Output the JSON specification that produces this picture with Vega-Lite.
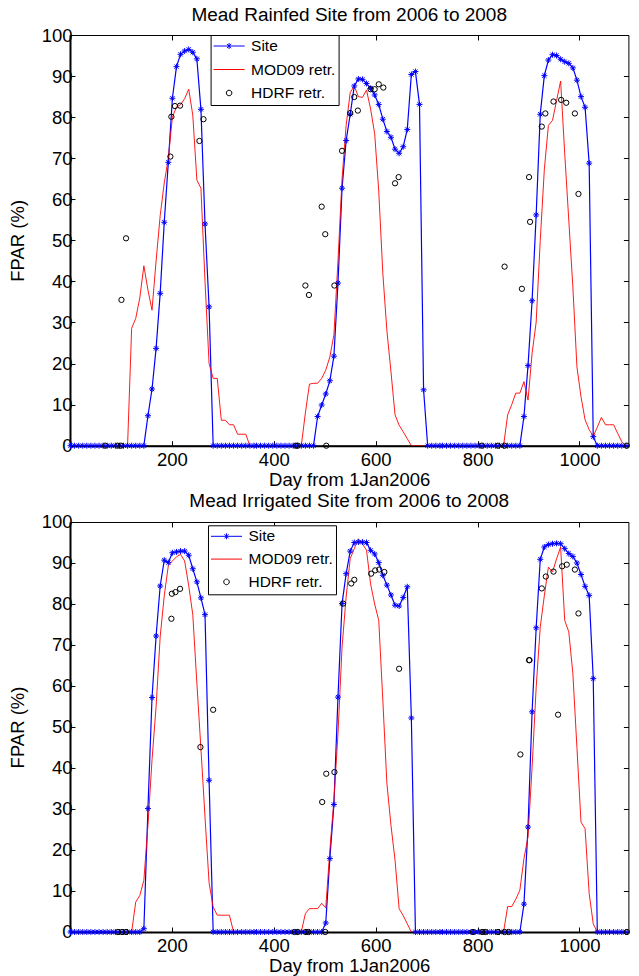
{
  "$schema": "https://vega.github.io/schema/vega-lite/v6.json",
  "background": "white",
  "padding": {"left": 7, "top": 5, "right": 5, "bottom": 5},
  "datasets": {
    "rainfed": [
      {"series":"Site","day":1,"fpar":0},{"series":"Site","day":9,"fpar":0},{"series":"Site","day":17,"fpar":0},{"series":"Site","day":25,"fpar":0},{"series":"Site","day":33,"fpar":0},{"series":"Site","day":41,"fpar":0},{"series":"Site","day":49,"fpar":0},{"series":"Site","day":57,"fpar":0},{"series":"Site","day":65,"fpar":0},{"series":"Site","day":73,"fpar":0},{"series":"Site","day":81,"fpar":0},{"series":"Site","day":89,"fpar":0},{"series":"Site","day":97,"fpar":0},{"series":"Site","day":105,"fpar":0},{"series":"Site","day":113,"fpar":0},{"series":"Site","day":121,"fpar":0},{"series":"Site","day":129,"fpar":0},{"series":"Site","day":137,"fpar":0},{"series":"Site","day":145,"fpar":0},
      {"series":"Site","day":153,"fpar":7.3},{"series":"Site","day":161,"fpar":13.8},{"series":"Site","day":169,"fpar":23.7},{"series":"Site","day":177,"fpar":37.1},{"series":"Site","day":185,"fpar":54.4},{"series":"Site","day":193,"fpar":69.0},{"series":"Site","day":201,"fpar":84.6},{"series":"Site","day":209,"fpar":92.3},{"series":"Site","day":217,"fpar":95.3},{"series":"Site","day":225,"fpar":96.1},{"series":"Site","day":233,"fpar":96.5},{"series":"Site","day":241,"fpar":95.8},{"series":"Site","day":249,"fpar":94.2},{"series":"Site","day":257,"fpar":81.9},{"series":"Site","day":265,"fpar":54.0},{"series":"Site","day":273,"fpar":33.8},
      {"series":"Site","day":281,"fpar":0},{"series":"Site","day":289,"fpar":0},{"series":"Site","day":297,"fpar":0},{"series":"Site","day":305,"fpar":0},{"series":"Site","day":313,"fpar":0},{"series":"Site","day":321,"fpar":0},{"series":"Site","day":329,"fpar":0},{"series":"Site","day":337,"fpar":0},{"series":"Site","day":345,"fpar":0},{"series":"Site","day":353,"fpar":0},{"series":"Site","day":361,"fpar":0},
      {"series":"Site","day":366,"fpar":0},{"series":"Site","day":374,"fpar":0},{"series":"Site","day":382,"fpar":0},{"series":"Site","day":390,"fpar":0},{"series":"Site","day":398,"fpar":0},{"series":"Site","day":406,"fpar":0},{"series":"Site","day":414,"fpar":0},{"series":"Site","day":422,"fpar":0},{"series":"Site","day":430,"fpar":0},{"series":"Site","day":438,"fpar":0},{"series":"Site","day":446,"fpar":0},{"series":"Site","day":454,"fpar":0},{"series":"Site","day":462,"fpar":0},{"series":"Site","day":470,"fpar":0},{"series":"Site","day":478,"fpar":0},
      {"series":"Site","day":486,"fpar":7.1},{"series":"Site","day":494,"fpar":9.9},{"series":"Site","day":502,"fpar":12.6},{"series":"Site","day":510,"fpar":15.8},{"series":"Site","day":518,"fpar":21.8},{"series":"Site","day":526,"fpar":39.6},{"series":"Site","day":534,"fpar":62.7},{"series":"Site","day":542,"fpar":74.3},{"series":"Site","day":550,"fpar":80.7},{"series":"Site","day":558,"fpar":87.6},{"series":"Site","day":566,"fpar":89.3},{"series":"Site","day":574,"fpar":89.2},{"series":"Site","day":582,"fpar":88.2},{"series":"Site","day":590,"fpar":87.0},{"series":"Site","day":598,"fpar":85.4},{"series":"Site","day":606,"fpar":83.1},{"series":"Site","day":614,"fpar":79.5},{"series":"Site","day":622,"fpar":76.5},{"series":"Site","day":630,"fpar":75.1},{"series":"Site","day":638,"fpar":72.2},{"series":"Site","day":646,"fpar":71.2},{"series":"Site","day":654,"fpar":72.8},{"series":"Site","day":662,"fpar":77.0},{"series":"Site","day":670,"fpar":90.4},{"series":"Site","day":678,"fpar":91.1},{"series":"Site","day":686,"fpar":83.1},{"series":"Site","day":694,"fpar":13.6},
      {"series":"Site","day":702,"fpar":0},{"series":"Site","day":710,"fpar":0},{"series":"Site","day":718,"fpar":0},{"series":"Site","day":726,"fpar":0},
      {"series":"Site","day":731,"fpar":0},{"series":"Site","day":739,"fpar":0},{"series":"Site","day":747,"fpar":0},{"series":"Site","day":755,"fpar":0},{"series":"Site","day":763,"fpar":0},{"series":"Site","day":771,"fpar":0},{"series":"Site","day":779,"fpar":0},{"series":"Site","day":787,"fpar":0},{"series":"Site","day":795,"fpar":0},{"series":"Site","day":803,"fpar":0},{"series":"Site","day":811,"fpar":0},{"series":"Site","day":819,"fpar":0},{"series":"Site","day":827,"fpar":0},{"series":"Site","day":835,"fpar":0},{"series":"Site","day":843,"fpar":0},{"series":"Site","day":851,"fpar":0},{"series":"Site","day":859,"fpar":0},{"series":"Site","day":867,"fpar":0},{"series":"Site","day":875,"fpar":0},{"series":"Site","day":883,"fpar":0},
      {"series":"Site","day":891,"fpar":7.1},{"series":"Site","day":899,"fpar":19.5},{"series":"Site","day":907,"fpar":35.3},{"series":"Site","day":915,"fpar":56.2},{"series":"Site","day":923,"fpar":80.7},{"series":"Site","day":931,"fpar":90.1},{"series":"Site","day":939,"fpar":93.9},{"series":"Site","day":947,"fpar":95.2},{"series":"Site","day":955,"fpar":95.0},{"series":"Site","day":963,"fpar":94.1},{"series":"Site","day":971,"fpar":93.5},{"series":"Site","day":979,"fpar":93.1},{"series":"Site","day":987,"fpar":92.0},{"series":"Site","day":995,"fpar":89.0},{"series":"Site","day":1003,"fpar":85.0},{"series":"Site","day":1011,"fpar":82.4},{"series":"Site","day":1019,"fpar":68.8},{"series":"Site","day":1027,"fpar":2.2},
      {"series":"Site","day":1035,"fpar":0},{"series":"Site","day":1043,"fpar":0},{"series":"Site","day":1051,"fpar":0},{"series":"Site","day":1059,"fpar":0},{"series":"Site","day":1067,"fpar":0},{"series":"Site","day":1075,"fpar":0},{"series":"Site","day":1083,"fpar":0},{"series":"Site","day":1091,"fpar":0},

      {"series":"MOD09 retr.","day":1,"fpar":0},{"series":"MOD09 retr.","day":9,"fpar":0},{"series":"MOD09 retr.","day":17,"fpar":0},{"series":"MOD09 retr.","day":25,"fpar":0},{"series":"MOD09 retr.","day":33,"fpar":0},{"series":"MOD09 retr.","day":41,"fpar":0},{"series":"MOD09 retr.","day":49,"fpar":0},{"series":"MOD09 retr.","day":57,"fpar":0},{"series":"MOD09 retr.","day":65,"fpar":0},{"series":"MOD09 retr.","day":73,"fpar":0},{"series":"MOD09 retr.","day":81,"fpar":0},{"series":"MOD09 retr.","day":89,"fpar":0},{"series":"MOD09 retr.","day":97,"fpar":0},{"series":"MOD09 retr.","day":105,"fpar":0},{"series":"MOD09 retr.","day":113,"fpar":0},
      {"series":"MOD09 retr.","day":121,"fpar":28.6},{"series":"MOD09 retr.","day":129,"fpar":31.0},{"series":"MOD09 retr.","day":137,"fpar":36.0},{"series":"MOD09 retr.","day":145,"fpar":43.8},{"series":"MOD09 retr.","day":153,"fpar":37.9},{"series":"MOD09 retr.","day":161,"fpar":33.0},{"series":"MOD09 retr.","day":169,"fpar":45.0},{"series":"MOD09 retr.","day":177,"fpar":56.0},{"series":"MOD09 retr.","day":185,"fpar":64.0},{"series":"MOD09 retr.","day":193,"fpar":70.0},{"series":"MOD09 retr.","day":201,"fpar":80.0},{"series":"MOD09 retr.","day":209,"fpar":82.5},{"series":"MOD09 retr.","day":217,"fpar":83.0},{"series":"MOD09 retr.","day":225,"fpar":84.5},{"series":"MOD09 retr.","day":233,"fpar":86.8},{"series":"MOD09 retr.","day":241,"fpar":80.5},{"series":"MOD09 retr.","day":249,"fpar":64.7},{"series":"MOD09 retr.","day":257,"fpar":62.7},{"series":"MOD09 retr.","day":265,"fpar":40.0},{"series":"MOD09 retr.","day":273,"fpar":20.0},{"series":"MOD09 retr.","day":281,"fpar":16.4},{"series":"MOD09 retr.","day":289,"fpar":16.4},{"series":"MOD09 retr.","day":297,"fpar":6.2},{"series":"MOD09 retr.","day":305,"fpar":6.2},{"series":"MOD09 retr.","day":313,"fpar":5.1},{"series":"MOD09 retr.","day":321,"fpar":5.1},{"series":"MOD09 retr.","day":329,"fpar":2.8},{"series":"MOD09 retr.","day":337,"fpar":2.8},{"series":"MOD09 retr.","day":345,"fpar":2.8},{"series":"MOD09 retr.","day":353,"fpar":0},{"series":"MOD09 retr.","day":361,"fpar":0},
      {"series":"MOD09 retr.","day":366,"fpar":0},{"series":"MOD09 retr.","day":374,"fpar":0},{"series":"MOD09 retr.","day":382,"fpar":0},{"series":"MOD09 retr.","day":390,"fpar":0},{"series":"MOD09 retr.","day":398,"fpar":0},{"series":"MOD09 retr.","day":406,"fpar":0},{"series":"MOD09 retr.","day":414,"fpar":0},{"series":"MOD09 retr.","day":422,"fpar":0},{"series":"MOD09 retr.","day":430,"fpar":0},{"series":"MOD09 retr.","day":438,"fpar":0},{"series":"MOD09 retr.","day":446,"fpar":0},{"series":"MOD09 retr.","day":454,"fpar":0},
      {"series":"MOD09 retr.","day":462,"fpar":8.0},{"series":"MOD09 retr.","day":470,"fpar":15.0},{"series":"MOD09 retr.","day":478,"fpar":15.2},{"series":"MOD09 retr.","day":486,"fpar":15.2},{"series":"MOD09 retr.","day":494,"fpar":16.4},{"series":"MOD09 retr.","day":502,"fpar":18.4},{"series":"MOD09 retr.","day":510,"fpar":21.6},{"series":"MOD09 retr.","day":518,"fpar":27.0},{"series":"MOD09 retr.","day":526,"fpar":45.0},{"series":"MOD09 retr.","day":534,"fpar":65.0},{"series":"MOD09 retr.","day":542,"fpar":78.0},{"series":"MOD09 retr.","day":550,"fpar":86.0},{"series":"MOD09 retr.","day":558,"fpar":87.6},{"series":"MOD09 retr.","day":566,"fpar":85.0},{"series":"MOD09 retr.","day":574,"fpar":84.8},{"series":"MOD09 retr.","day":582,"fpar":86.6},{"series":"MOD09 retr.","day":590,"fpar":82.0},{"series":"MOD09 retr.","day":598,"fpar":76.0},{"series":"MOD09 retr.","day":606,"fpar":62.0},{"series":"MOD09 retr.","day":614,"fpar":42.0},{"series":"MOD09 retr.","day":622,"fpar":28.0},{"series":"MOD09 retr.","day":630,"fpar":18.0},{"series":"MOD09 retr.","day":638,"fpar":7.5},{"series":"MOD09 retr.","day":646,"fpar":5.0},{"series":"MOD09 retr.","day":654,"fpar":3.4},{"series":"MOD09 retr.","day":662,"fpar":1.7},{"series":"MOD09 retr.","day":670,"fpar":0},{"series":"MOD09 retr.","day":678,"fpar":0},{"series":"MOD09 retr.","day":686,"fpar":0},{"series":"MOD09 retr.","day":694,"fpar":0},{"series":"MOD09 retr.","day":702,"fpar":0},{"series":"MOD09 retr.","day":710,"fpar":0},{"series":"MOD09 retr.","day":718,"fpar":0},{"series":"MOD09 retr.","day":726,"fpar":0},
      {"series":"MOD09 retr.","day":731,"fpar":0},{"series":"MOD09 retr.","day":739,"fpar":0},{"series":"MOD09 retr.","day":747,"fpar":0},{"series":"MOD09 retr.","day":755,"fpar":0},{"series":"MOD09 retr.","day":763,"fpar":0},{"series":"MOD09 retr.","day":771,"fpar":0},{"series":"MOD09 retr.","day":779,"fpar":0},{"series":"MOD09 retr.","day":787,"fpar":0},{"series":"MOD09 retr.","day":795,"fpar":0},{"series":"MOD09 retr.","day":803,"fpar":0},{"series":"MOD09 retr.","day":811,"fpar":0},{"series":"MOD09 retr.","day":819,"fpar":0},{"series":"MOD09 retr.","day":827,"fpar":0},{"series":"MOD09 retr.","day":835,"fpar":0},{"series":"MOD09 retr.","day":843,"fpar":0},{"series":"MOD09 retr.","day":851,"fpar":0},
      {"series":"MOD09 retr.","day":859,"fpar":7.5},{"series":"MOD09 retr.","day":867,"fpar":10.0},{"series":"MOD09 retr.","day":875,"fpar":12.8},{"series":"MOD09 retr.","day":883,"fpar":12.8},{"series":"MOD09 retr.","day":891,"fpar":15.6},{"series":"MOD09 retr.","day":899,"fpar":11.1},{"series":"MOD09 retr.","day":907,"fpar":22.5},{"series":"MOD09 retr.","day":915,"fpar":30.1},{"series":"MOD09 retr.","day":923,"fpar":50.0},{"series":"MOD09 retr.","day":931,"fpar":67.2},{"series":"MOD09 retr.","day":939,"fpar":78.0},{"series":"MOD09 retr.","day":947,"fpar":79.2},{"series":"MOD09 retr.","day":955,"fpar":84.0},{"series":"MOD09 retr.","day":963,"fpar":88.8},{"series":"MOD09 retr.","day":971,"fpar":71.2},{"series":"MOD09 retr.","day":979,"fpar":54.9},{"series":"MOD09 retr.","day":987,"fpar":38.7},{"series":"MOD09 retr.","day":995,"fpar":19.2},{"series":"MOD09 retr.","day":1003,"fpar":11.9},{"series":"MOD09 retr.","day":1011,"fpar":6.3},{"series":"MOD09 retr.","day":1019,"fpar":3.9},{"series":"MOD09 retr.","day":1027,"fpar":2.3},{"series":"MOD09 retr.","day":1035,"fpar":4.5},{"series":"MOD09 retr.","day":1043,"fpar":6.9},{"series":"MOD09 retr.","day":1051,"fpar":5.1},{"series":"MOD09 retr.","day":1059,"fpar":5.1},{"series":"MOD09 retr.","day":1067,"fpar":5.1},{"series":"MOD09 retr.","day":1075,"fpar":3.0},{"series":"MOD09 retr.","day":1083,"fpar":1.0},{"series":"MOD09 retr.","day":1091,"fpar":0},

      {"series":"HDRF retr.","day":69,"fpar":0},{"series":"HDRF retr.","day":93,"fpar":0},{"series":"HDRF retr.","day":100,"fpar":0},{"series":"HDRF retr.","day":101,"fpar":35.5},{"series":"HDRF retr.","day":110,"fpar":50.5},{"series":"HDRF retr.","day":197,"fpar":70.4},{"series":"HDRF retr.","day":199,"fpar":80.1},{"series":"HDRF retr.","day":206,"fpar":82.7},{"series":"HDRF retr.","day":216,"fpar":82.8},{"series":"HDRF retr.","day":254,"fpar":74.2},{"series":"HDRF retr.","day":262,"fpar":79.5},
      {"series":"HDRF retr.","day":443,"fpar":0},{"series":"HDRF retr.","day":447,"fpar":0},{"series":"HDRF retr.","day":462,"fpar":39.0},{"series":"HDRF retr.","day":469,"fpar":36.7},{"series":"HDRF retr.","day":494,"fpar":58.2},{"series":"HDRF retr.","day":501,"fpar":51.5},{"series":"HDRF retr.","day":503,"fpar":0},{"series":"HDRF retr.","day":519,"fpar":39.0},{"series":"HDRF retr.","day":534,"fpar":71.8},{"series":"HDRF retr.","day":550,"fpar":81.0},{"series":"HDRF retr.","day":558,"fpar":84.9},{"series":"HDRF retr.","day":565,"fpar":81.6},{"series":"HDRF retr.","day":590,"fpar":86.8},{"series":"HDRF retr.","day":598,"fpar":86.8},{"series":"HDRF retr.","day":606,"fpar":88.0},{"series":"HDRF retr.","day":615,"fpar":87.2},{"series":"HDRF retr.","day":638,"fpar":63.9},{"series":"HDRF retr.","day":645,"fpar":65.4},
      {"series":"HDRF retr.","day":808,"fpar":0},{"series":"HDRF retr.","day":840,"fpar":0},{"series":"HDRF retr.","day":853,"fpar":0},{"series":"HDRF retr.","day":853,"fpar":43.6},{"series":"HDRF retr.","day":887,"fpar":38.2},{"series":"HDRF retr.","day":901,"fpar":65.4},{"series":"HDRF retr.","day":903,"fpar":54.5},{"series":"HDRF retr.","day":926,"fpar":77.7},{"series":"HDRF retr.","day":933,"fpar":80.9},{"series":"HDRF retr.","day":949,"fpar":83.8},{"series":"HDRF retr.","day":964,"fpar":84.2},{"series":"HDRF retr.","day":974,"fpar":83.5},{"series":"HDRF retr.","day":991,"fpar":80.9},{"series":"HDRF retr.","day":998,"fpar":61.3},{"series":"HDRF retr.","day":1093,"fpar":0}
    ],
    "irrigated": [
      {"series":"Site","day":1,"fpar":0},{"series":"Site","day":9,"fpar":0},{"series":"Site","day":17,"fpar":0},{"series":"Site","day":25,"fpar":0},{"series":"Site","day":33,"fpar":0},{"series":"Site","day":41,"fpar":0},{"series":"Site","day":49,"fpar":0},{"series":"Site","day":57,"fpar":0},{"series":"Site","day":65,"fpar":0},{"series":"Site","day":73,"fpar":0},{"series":"Site","day":81,"fpar":0},{"series":"Site","day":89,"fpar":0},{"series":"Site","day":97,"fpar":0},{"series":"Site","day":105,"fpar":0},{"series":"Site","day":113,"fpar":0},{"series":"Site","day":121,"fpar":0},{"series":"Site","day":129,"fpar":0},{"series":"Site","day":137,"fpar":0},
      {"series":"Site","day":145,"fpar":0.8},{"series":"Site","day":153,"fpar":30.1},{"series":"Site","day":161,"fpar":57.2},{"series":"Site","day":169,"fpar":72.2},{"series":"Site","day":177,"fpar":84.4},{"series":"Site","day":185,"fpar":90.7},{"series":"Site","day":193,"fpar":90.1},{"series":"Site","day":201,"fpar":92.5},{"series":"Site","day":209,"fpar":92.7},{"series":"Site","day":217,"fpar":92.9},{"series":"Site","day":225,"fpar":92.9},{"series":"Site","day":233,"fpar":91.9},{"series":"Site","day":241,"fpar":88.6},{"series":"Site","day":249,"fpar":85.4},{"series":"Site","day":257,"fpar":81.5},{"series":"Site","day":265,"fpar":77.4},{"series":"Site","day":273,"fpar":37.0},
      {"series":"Site","day":281,"fpar":0},{"series":"Site","day":289,"fpar":0},{"series":"Site","day":297,"fpar":0},{"series":"Site","day":305,"fpar":0},{"series":"Site","day":313,"fpar":0},{"series":"Site","day":321,"fpar":0},{"series":"Site","day":329,"fpar":0},{"series":"Site","day":337,"fpar":0},{"series":"Site","day":345,"fpar":0},{"series":"Site","day":353,"fpar":0},{"series":"Site","day":361,"fpar":0},
      {"series":"Site","day":366,"fpar":0},{"series":"Site","day":374,"fpar":0},{"series":"Site","day":382,"fpar":0},{"series":"Site","day":390,"fpar":0},{"series":"Site","day":398,"fpar":0},{"series":"Site","day":406,"fpar":0},{"series":"Site","day":414,"fpar":0},{"series":"Site","day":422,"fpar":0},{"series":"Site","day":430,"fpar":0},{"series":"Site","day":438,"fpar":0},{"series":"Site","day":446,"fpar":0},{"series":"Site","day":454,"fpar":0},{"series":"Site","day":462,"fpar":0},{"series":"Site","day":470,"fpar":0},{"series":"Site","day":478,"fpar":0},{"series":"Site","day":486,"fpar":0},{"series":"Site","day":494,"fpar":0},
      {"series":"Site","day":502,"fpar":2.2},{"series":"Site","day":510,"fpar":17.9},{"series":"Site","day":518,"fpar":31.1},{"series":"Site","day":526,"fpar":57.3},{"series":"Site","day":534,"fpar":80.1},{"series":"Site","day":542,"fpar":87.4},{"series":"Site","day":550,"fpar":92.9},{"series":"Site","day":558,"fpar":95.0},{"series":"Site","day":566,"fpar":95.1},{"series":"Site","day":574,"fpar":95.1},{"series":"Site","day":582,"fpar":95.0},{"series":"Site","day":590,"fpar":93.1},{"series":"Site","day":598,"fpar":92.2},{"series":"Site","day":606,"fpar":90.1},{"series":"Site","day":614,"fpar":87.0},{"series":"Site","day":622,"fpar":84.6},{"series":"Site","day":630,"fpar":82.2},{"series":"Site","day":638,"fpar":79.7},{"series":"Site","day":646,"fpar":79.5},{"series":"Site","day":654,"fpar":81.6},{"series":"Site","day":662,"fpar":84.2},{"series":"Site","day":670,"fpar":52.2},
      {"series":"Site","day":678,"fpar":0},{"series":"Site","day":686,"fpar":0},{"series":"Site","day":694,"fpar":0},{"series":"Site","day":702,"fpar":0},{"series":"Site","day":710,"fpar":0},{"series":"Site","day":718,"fpar":0},{"series":"Site","day":726,"fpar":0},
      {"series":"Site","day":731,"fpar":0},{"series":"Site","day":739,"fpar":0},{"series":"Site","day":747,"fpar":0},{"series":"Site","day":755,"fpar":0},{"series":"Site","day":763,"fpar":0},{"series":"Site","day":771,"fpar":0},{"series":"Site","day":779,"fpar":0},{"series":"Site","day":787,"fpar":0},{"series":"Site","day":795,"fpar":0},{"series":"Site","day":803,"fpar":0},{"series":"Site","day":811,"fpar":0},{"series":"Site","day":819,"fpar":0},{"series":"Site","day":827,"fpar":0},{"series":"Site","day":835,"fpar":0},{"series":"Site","day":843,"fpar":0},{"series":"Site","day":851,"fpar":0},{"series":"Site","day":859,"fpar":0},{"series":"Site","day":867,"fpar":0},{"series":"Site","day":875,"fpar":0},{"series":"Site","day":883,"fpar":0},
      {"series":"Site","day":891,"fpar":6.8},{"series":"Site","day":899,"fpar":25.6},{"series":"Site","day":907,"fpar":53.7},{"series":"Site","day":915,"fpar":74.2},{"series":"Site","day":923,"fpar":90.9},{"series":"Site","day":931,"fpar":93.9},{"series":"Site","day":939,"fpar":94.5},{"series":"Site","day":947,"fpar":94.7},{"series":"Site","day":955,"fpar":94.8},{"series":"Site","day":963,"fpar":94.7},{"series":"Site","day":971,"fpar":93.5},{"series":"Site","day":979,"fpar":92.3},{"series":"Site","day":987,"fpar":91.6},{"series":"Site","day":995,"fpar":90.0},{"series":"Site","day":1003,"fpar":87.2},{"series":"Site","day":1011,"fpar":84.3},{"series":"Site","day":1019,"fpar":82.1},{"series":"Site","day":1027,"fpar":61.8},
      {"series":"Site","day":1035,"fpar":0},{"series":"Site","day":1043,"fpar":0},{"series":"Site","day":1051,"fpar":0},{"series":"Site","day":1059,"fpar":0},{"series":"Site","day":1067,"fpar":0},{"series":"Site","day":1075,"fpar":0},{"series":"Site","day":1083,"fpar":0},{"series":"Site","day":1091,"fpar":0},

      {"series":"MOD09 retr.","day":1,"fpar":0},{"series":"MOD09 retr.","day":9,"fpar":0},{"series":"MOD09 retr.","day":17,"fpar":0},{"series":"MOD09 retr.","day":25,"fpar":0},{"series":"MOD09 retr.","day":33,"fpar":0},{"series":"MOD09 retr.","day":41,"fpar":0},{"series":"MOD09 retr.","day":49,"fpar":0},{"series":"MOD09 retr.","day":57,"fpar":0},{"series":"MOD09 retr.","day":65,"fpar":0},{"series":"MOD09 retr.","day":73,"fpar":0},{"series":"MOD09 retr.","day":81,"fpar":0},{"series":"MOD09 retr.","day":89,"fpar":0},{"series":"MOD09 retr.","day":97,"fpar":0},{"series":"MOD09 retr.","day":105,"fpar":0},{"series":"MOD09 retr.","day":113,"fpar":0},{"series":"MOD09 retr.","day":121,"fpar":0},
      {"series":"MOD09 retr.","day":129,"fpar":7.3},{"series":"MOD09 retr.","day":137,"fpar":8.9},{"series":"MOD09 retr.","day":145,"fpar":12.6},{"series":"MOD09 retr.","day":153,"fpar":26.0},{"series":"MOD09 retr.","day":161,"fpar":42.0},{"series":"MOD09 retr.","day":169,"fpar":55.0},{"series":"MOD09 retr.","day":177,"fpar":72.0},{"series":"MOD09 retr.","day":185,"fpar":82.0},{"series":"MOD09 retr.","day":193,"fpar":89.4},{"series":"MOD09 retr.","day":201,"fpar":90.5},{"series":"MOD09 retr.","day":209,"fpar":91.5},{"series":"MOD09 retr.","day":217,"fpar":92.1},{"series":"MOD09 retr.","day":225,"fpar":90.5},{"series":"MOD09 retr.","day":233,"fpar":84.5},{"series":"MOD09 retr.","day":241,"fpar":77.4},{"series":"MOD09 retr.","day":249,"fpar":60.7},{"series":"MOD09 retr.","day":257,"fpar":44.7},{"series":"MOD09 retr.","day":265,"fpar":28.0},{"series":"MOD09 retr.","day":273,"fpar":12.0},{"series":"MOD09 retr.","day":281,"fpar":6.1},{"series":"MOD09 retr.","day":289,"fpar":4.1},{"series":"MOD09 retr.","day":297,"fpar":4.1},{"series":"MOD09 retr.","day":305,"fpar":4.1},{"series":"MOD09 retr.","day":313,"fpar":4.1},{"series":"MOD09 retr.","day":321,"fpar":0},{"series":"MOD09 retr.","day":329,"fpar":0},{"series":"MOD09 retr.","day":337,"fpar":0},{"series":"MOD09 retr.","day":345,"fpar":0},{"series":"MOD09 retr.","day":353,"fpar":0},{"series":"MOD09 retr.","day":361,"fpar":0},
      {"series":"MOD09 retr.","day":366,"fpar":0},{"series":"MOD09 retr.","day":374,"fpar":0},{"series":"MOD09 retr.","day":382,"fpar":0},{"series":"MOD09 retr.","day":390,"fpar":0},{"series":"MOD09 retr.","day":398,"fpar":0},{"series":"MOD09 retr.","day":406,"fpar":0},{"series":"MOD09 retr.","day":414,"fpar":0},{"series":"MOD09 retr.","day":422,"fpar":0},{"series":"MOD09 retr.","day":430,"fpar":0},{"series":"MOD09 retr.","day":438,"fpar":0},{"series":"MOD09 retr.","day":446,"fpar":0},{"series":"MOD09 retr.","day":454,"fpar":0},
      {"series":"MOD09 retr.","day":462,"fpar":4.5},{"series":"MOD09 retr.","day":470,"fpar":5.7},{"series":"MOD09 retr.","day":478,"fpar":5.7},{"series":"MOD09 retr.","day":486,"fpar":5.7},{"series":"MOD09 retr.","day":494,"fpar":7.0},{"series":"MOD09 retr.","day":502,"fpar":5.9},{"series":"MOD09 retr.","day":510,"fpar":19.9},{"series":"MOD09 retr.","day":518,"fpar":32.1},{"series":"MOD09 retr.","day":526,"fpar":48.4},{"series":"MOD09 retr.","day":534,"fpar":69.5},{"series":"MOD09 retr.","day":542,"fpar":81.7},{"series":"MOD09 retr.","day":550,"fpar":91.1},{"series":"MOD09 retr.","day":558,"fpar":93.5},{"series":"MOD09 retr.","day":566,"fpar":95.9},{"series":"MOD09 retr.","day":574,"fpar":94.7},{"series":"MOD09 retr.","day":582,"fpar":93.1},{"series":"MOD09 retr.","day":590,"fpar":84.9},{"series":"MOD09 retr.","day":598,"fpar":80.0},{"series":"MOD09 retr.","day":606,"fpar":76.0},{"series":"MOD09 retr.","day":614,"fpar":56.6},{"series":"MOD09 retr.","day":622,"fpar":36.2},{"series":"MOD09 retr.","day":630,"fpar":26.0},{"series":"MOD09 retr.","day":638,"fpar":17.5},{"series":"MOD09 retr.","day":646,"fpar":5.7},{"series":"MOD09 retr.","day":654,"fpar":4.0},{"series":"MOD09 retr.","day":662,"fpar":2.0},{"series":"MOD09 retr.","day":670,"fpar":0},{"series":"MOD09 retr.","day":678,"fpar":0},{"series":"MOD09 retr.","day":686,"fpar":0},{"series":"MOD09 retr.","day":694,"fpar":0},{"series":"MOD09 retr.","day":702,"fpar":0},{"series":"MOD09 retr.","day":710,"fpar":0},{"series":"MOD09 retr.","day":718,"fpar":0},{"series":"MOD09 retr.","day":726,"fpar":0},
      {"series":"MOD09 retr.","day":731,"fpar":0},{"series":"MOD09 retr.","day":739,"fpar":0},{"series":"MOD09 retr.","day":747,"fpar":0},{"series":"MOD09 retr.","day":755,"fpar":0},{"series":"MOD09 retr.","day":763,"fpar":0},{"series":"MOD09 retr.","day":771,"fpar":0},{"series":"MOD09 retr.","day":779,"fpar":0},{"series":"MOD09 retr.","day":787,"fpar":0},{"series":"MOD09 retr.","day":795,"fpar":0},{"series":"MOD09 retr.","day":803,"fpar":0},{"series":"MOD09 retr.","day":811,"fpar":0},{"series":"MOD09 retr.","day":819,"fpar":0},{"series":"MOD09 retr.","day":827,"fpar":0},{"series":"MOD09 retr.","day":835,"fpar":0},{"series":"MOD09 retr.","day":843,"fpar":0},{"series":"MOD09 retr.","day":851,"fpar":0},
      {"series":"MOD09 retr.","day":859,"fpar":6.2},{"series":"MOD09 retr.","day":867,"fpar":6.2},{"series":"MOD09 retr.","day":875,"fpar":8.0},{"series":"MOD09 retr.","day":883,"fpar":10.2},{"series":"MOD09 retr.","day":891,"fpar":17.9},{"series":"MOD09 retr.","day":899,"fpar":23.2},{"series":"MOD09 retr.","day":907,"fpar":40.2},{"series":"MOD09 retr.","day":915,"fpar":59.7},{"series":"MOD09 retr.","day":923,"fpar":74.4},{"series":"MOD09 retr.","day":931,"fpar":82.0},{"series":"MOD09 retr.","day":939,"fpar":89.0},{"series":"MOD09 retr.","day":947,"fpar":87.8},{"series":"MOD09 retr.","day":955,"fpar":91.0},{"series":"MOD09 retr.","day":963,"fpar":93.9},{"series":"MOD09 retr.","day":971,"fpar":76.0},{"series":"MOD09 retr.","day":979,"fpar":73.2},{"series":"MOD09 retr.","day":987,"fpar":63.1},{"series":"MOD09 retr.","day":995,"fpar":45.0},{"series":"MOD09 retr.","day":1003,"fpar":26.8},{"series":"MOD09 retr.","day":1011,"fpar":25.2},{"series":"MOD09 retr.","day":1019,"fpar":9.4},{"series":"MOD09 retr.","day":1027,"fpar":2.0},{"series":"MOD09 retr.","day":1035,"fpar":0},{"series":"MOD09 retr.","day":1043,"fpar":0},{"series":"MOD09 retr.","day":1051,"fpar":0},{"series":"MOD09 retr.","day":1059,"fpar":0},{"series":"MOD09 retr.","day":1067,"fpar":0},{"series":"MOD09 retr.","day":1075,"fpar":0},{"series":"MOD09 retr.","day":1083,"fpar":0},{"series":"MOD09 retr.","day":1091,"fpar":0},

      {"series":"HDRF retr.","day":94,"fpar":0},{"series":"HDRF retr.","day":102,"fpar":0},{"series":"HDRF retr.","day":110,"fpar":0},{"series":"HDRF retr.","day":199,"fpar":76.4},{"series":"HDRF retr.","day":200,"fpar":82.5},{"series":"HDRF retr.","day":207,"fpar":82.9},{"series":"HDRF retr.","day":216,"fpar":83.7},{"series":"HDRF retr.","day":256,"fpar":45.1},{"series":"HDRF retr.","day":281,"fpar":54.2},
      {"series":"HDRF retr.","day":441,"fpar":0},{"series":"HDRF retr.","day":447,"fpar":0},{"series":"HDRF retr.","day":463,"fpar":0},{"series":"HDRF retr.","day":468,"fpar":0},{"series":"HDRF retr.","day":495,"fpar":31.7},{"series":"HDRF retr.","day":501,"fpar":0},{"series":"HDRF retr.","day":503,"fpar":38.6},{"series":"HDRF retr.","day":519,"fpar":39.0},{"series":"HDRF retr.","day":536,"fpar":80.1},{"series":"HDRF retr.","day":552,"fpar":85.0},{"series":"HDRF retr.","day":558,"fpar":85.9},{"series":"HDRF retr.","day":591,"fpar":87.4},{"series":"HDRF retr.","day":599,"fpar":88.2},{"series":"HDRF retr.","day":607,"fpar":88.4},{"series":"HDRF retr.","day":617,"fpar":87.8},{"series":"HDRF retr.","day":646,"fpar":64.2},
      {"series":"HDRF retr.","day":791,"fpar":0},{"series":"HDRF retr.","day":809,"fpar":0},{"series":"HDRF retr.","day":815,"fpar":0},{"series":"HDRF retr.","day":840,"fpar":0},{"series":"HDRF retr.","day":853,"fpar":0},{"series":"HDRF retr.","day":861,"fpar":0},{"series":"HDRF retr.","day":884,"fpar":43.3},{"series":"HDRF retr.","day":901,"fpar":66.3},{"series":"HDRF retr.","day":902,"fpar":66.3},{"series":"HDRF retr.","day":926,"fpar":83.8},{"series":"HDRF retr.","day":934,"fpar":86.7},{"series":"HDRF retr.","day":949,"fpar":87.9},{"series":"HDRF retr.","day":958,"fpar":53.0},{"series":"HDRF retr.","day":966,"fpar":89.2},{"series":"HDRF retr.","day":975,"fpar":89.6},{"series":"HDRF retr.","day":991,"fpar":88.4},{"series":"HDRF retr.","day":998,"fpar":77.7},{"series":"HDRF retr.","day":1093,"fpar":0}
    ]
  },
  "spacing": 76,
  "bounds": "flush",
  "resolve": {"scale": {"color": "independent"}, "legend": {"color": "independent"}},
  "vconcat": [
    {
      "width": 558.4,
      "height": 410.7,
      "title": {"text": "Mead Rainfed Site from 2006 to 2008"},
      "data": {"name": "rainfed"},
      "layer": [
        {
          "transform": [{"filter": "datum.series !== 'HDRF retr.'"}],
          "mark": {"type": "line", "clip": true},
          "encoding": {
            "x": {"field": "day", "type": "quantitative", "scale": {"domain": [0, 1096], "nice": false, "zero": false},
                  "axis": {"orient": "bottom", "values": [200, 400, 600, 800, 1000], "format": "d", "title": "Day from 1Jan2006", "domain": true, "domainWidth": 2, "labelPadding": 10, "titlePadding": 1}},
            "y": {"field": "fpar", "type": "quantitative", "scale": {"domain": [0, 100], "nice": false},
                  "axis": {"orient": "left", "values": [0,10,20,30,40,50,60,70,80,90,100], "format": "d", "title": "FPAR (%)", "domain": true, "domainWidth": 2, "labelPadding": 3, "titlePadding": 14}},
            "color": {"field": "series", "type": "nominal",
                      "scale": {"domain": ["Site", "MOD09 retr.", "HDRF retr."], "range": ["#0000ff", "#ff0000", "#000000"]},
                      "legend": {"legendX": 140.6, "legendY": 0, "rowPadding": 6.5,
                        "encode": {"symbols": {"update": {
                          "shape": {"signal": "datum.value === 'Site' ? 'M-2.07,0L2.07,0M0,-0.4L0,0.4M-0.28,-0.28L0.28,0.28M-0.28,0.28L0.28,-0.28' : datum.value === 'MOD09 retr.' ? 'M-2.07,0L2.07,0' : 'M0.37,0A0.37,0.37,0,1,1,-0.37,0A0.37,0.37,0,1,1,0.37,0Z'"},
                          "stroke": {"signal": "datum.value === 'Site' ? '#0000ff' : datum.value === 'MOD09 retr.' ? '#ff0000' : '#000000'"},
                          "fill": {"value": "transparent"}, "size": {"value": 225}, "strokeWidth": {"value": 1}, "opacity": {"value": 1}}}}}},
            "strokeWidth": {"field": "series", "type": "nominal", "scale": {"domain": ["Site", "MOD09 retr."], "range": [1.2, 0.9]}, "legend": null}
          }
        },
        {
          "transform": [{"filter": "datum.series === 'Site'"}],
          "mark": {"type": "point", "shape": "M0,-1L0,1M-1,0L1,0M-0.7,-0.7L0.7,0.7M-0.7,0.7L0.7,-0.7", "size": 36, "filled": false, "stroke": "#0000ff", "strokeWidth": 1, "opacity": 1},
          "encoding": {
            "x": {"field": "day", "type": "quantitative", "axis": {"orient": "top", "values": [200, 400, 600, 800, 1000], "labels": false, "title": null, "domain": false, "minExtent": 0, "maxExtent": 0}},
            "y": {"field": "fpar", "type": "quantitative", "axis": {"orient": "right", "values": [0,10,20,30,40,50,60,70,80,90,100], "labels": false, "title": null, "domain": false, "minExtent": 0, "maxExtent": 0}}
          }
        },
        {
          "transform": [{"filter": "datum.series === 'HDRF retr.'"}],
          "mark": {"type": "point", "shape": "circle", "size": 28, "filled": false, "stroke": "#000000", "strokeWidth": 1, "opacity": 1},
          "encoding": {
            "x": {"field": "day", "type": "quantitative", "axis": null},
            "y": {"field": "fpar", "type": "quantitative", "axis": null}
          }
        }
      ],
      "resolve": {"axis": {"x": "independent", "y": "independent"}}
    },
    {
      "width": 558.4,
      "height": 410,
      "title": {"text": "Mead Irrigated Site from 2006 to 2008"},
      "data": {"name": "irrigated"},
      "layer": [
        {
          "transform": [{"filter": "datum.series !== 'HDRF retr.'"}],
          "mark": {"type": "line", "clip": true},
          "encoding": {
            "x": {"field": "day", "type": "quantitative", "scale": {"domain": [0, 1096], "nice": false, "zero": false},
                  "axis": {"orient": "bottom", "values": [200, 400, 600, 800, 1000], "format": "d", "title": "Day from 1Jan2006", "domain": true, "domainWidth": 2, "labelPadding": 10, "titlePadding": 1}},
            "y": {"field": "fpar", "type": "quantitative", "scale": {"domain": [0, 100], "nice": false},
                  "axis": {"orient": "left", "values": [0,10,20,30,40,50,60,70,80,90,100], "format": "d", "title": "FPAR (%)", "domain": true, "domainWidth": 2, "labelPadding": 3, "titlePadding": 14}},
            "color": {"field": "series", "type": "nominal",
                      "scale": {"domain": ["Site", "MOD09 retr.", "HDRF retr."], "range": ["#0000ff", "#ff0000", "#000000"]},
                      "legend": {"legendX": 138, "legendY": 3.3, "rowPadding": 5.8,
                        "encode": {"symbols": {"update": {
                          "shape": {"signal": "datum.value === 'Site' ? 'M-2.07,0L2.07,0M0,-0.4L0,0.4M-0.28,-0.28L0.28,0.28M-0.28,0.28L0.28,-0.28' : datum.value === 'MOD09 retr.' ? 'M-2.07,0L2.07,0' : 'M0.37,0A0.37,0.37,0,1,1,-0.37,0A0.37,0.37,0,1,1,0.37,0Z'"},
                          "stroke": {"signal": "datum.value === 'Site' ? '#0000ff' : datum.value === 'MOD09 retr.' ? '#ff0000' : '#000000'"},
                          "fill": {"value": "transparent"}, "size": {"value": 225}, "strokeWidth": {"value": 1}, "opacity": {"value": 1}}}}}},
            "strokeWidth": {"field": "series", "type": "nominal", "scale": {"domain": ["Site", "MOD09 retr."], "range": [1.2, 0.9]}, "legend": null}
          }
        },
        {
          "transform": [{"filter": "datum.series === 'Site'"}],
          "mark": {"type": "point", "shape": "M0,-1L0,1M-1,0L1,0M-0.7,-0.7L0.7,0.7M-0.7,0.7L0.7,-0.7", "size": 36, "filled": false, "stroke": "#0000ff", "strokeWidth": 1, "opacity": 1},
          "encoding": {
            "x": {"field": "day", "type": "quantitative", "axis": {"orient": "top", "values": [200, 400, 600, 800, 1000], "labels": false, "title": null, "domain": false, "minExtent": 0, "maxExtent": 0}},
            "y": {"field": "fpar", "type": "quantitative", "axis": {"orient": "right", "values": [0,10,20,30,40,50,60,70,80,90,100], "labels": false, "title": null, "domain": false, "minExtent": 0, "maxExtent": 0}}
          }
        },
        {
          "transform": [{"filter": "datum.series === 'HDRF retr.'"}],
          "mark": {"type": "point", "shape": "circle", "size": 28, "filled": false, "stroke": "#000000", "strokeWidth": 1, "opacity": 1},
          "encoding": {
            "x": {"field": "day", "type": "quantitative", "axis": null},
            "y": {"field": "fpar", "type": "quantitative", "axis": null}
          }
        }
      ],
      "resolve": {"axis": {"x": "independent", "y": "independent"}}
    }
  ],
  "config": {
    "font": "Liberation Sans",
    "view": {"stroke": "#000000", "strokeWidth": 1},
    "title": {"fontSize": 19, "fontWeight": "normal", "color": "#000000", "anchor": "middle", "offset": 1.5, "baseline": "alphabetic"},
    "axis": {
      "grid": false, "tickSize": -5, "tickColor": "#000000", "tickWidth": 1, "domainColor": "#000000",
      "labelFontSize": 18.5, "labelColor": "#000000", "labelFont": "Liberation Sans",
      "titleFontSize": 18.5, "titleFontWeight": "normal", "titleColor": "#000000", "titleFont": "Liberation Sans", "titlePadding": 4
    },
    "legend": {
      "orient": "none", "title": null, "strokeColor": "#000000", "fillColor": "#ffffff", "padding": 3, "cornerRadius": 0,
      "labelFontSize": 15.5, "labelFont": "Liberation Sans", "labelColor": "#000000", "labelLimit": 300,
      "symbolOffset": 7.5, "labelOffset": 14, "symbolStrokeWidth": 1
    }
  }
}
